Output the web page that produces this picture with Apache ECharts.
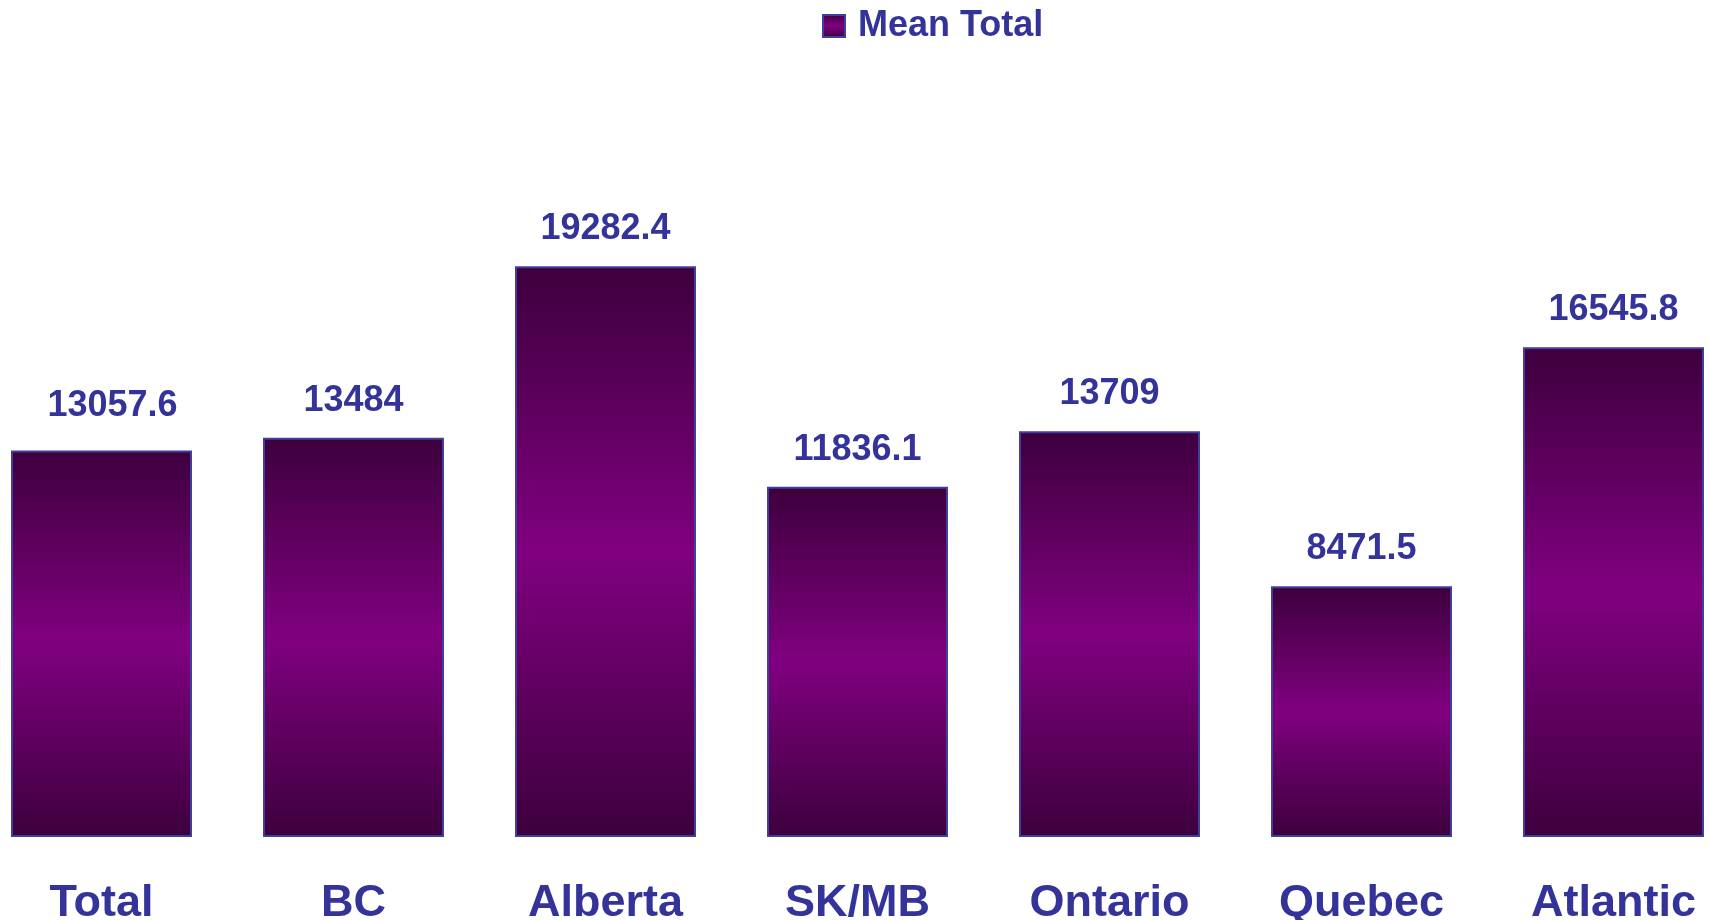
<!DOCTYPE html>
<html><head><meta charset="utf-8">
<script src="https://cdn.jsdelivr.net/npm/echarts@6/dist/echarts.min.js"></script>
<style>html,body{margin:0;padding:0;background:#fff}#c{width:1709px;height:920px}</style>
</head><body><div id="c"></div>
<script>
const categories = ['Total','BC','Alberta','SK/MB','Ontario','Quebec','Atlantic'];
const meanTotal = [13057.6, 13484, 19282.4, 11836.1, 13709, 8471.5, 16545.8];
const seriesName = 'Mean Total';

const chart = echarts.init(document.getElementById('c'));
const grad = new echarts.graphic.LinearGradient(0,0,0,1,[
  {offset:0,color:'#3d003d'},{offset:0.5,color:'#800080'},{offset:1,color:'#3d003d'}]);
const barData = meanTotal.map((v,i)=> i===0 ? {value:v,label:{offset:[11,-7]}} : v);
chart.setOption({
  animation:false,
  textStyle:{fontFamily:'Liberation Sans, Arial, sans-serif'},
  legend:{left:817,top:3,itemWidth:22,itemHeight:22,itemGap:10,icon:'rect',
    textStyle:{color:'#333399',fontSize:36,fontWeight:'bold',fontFamily:'Liberation Sans, Arial',padding:[0,0,0,8]},
    data:[seriesName]},
  grid:{left:-24.5,right:-30.5,top:245,bottom:83,containLabel:false,outerBoundsMode:'none'},
  xAxis:{type:'category',data:categories,axisLine:{show:false},axisTick:{show:false},
    axisLabel:{color:'#333399',fontSize:45,fontWeight:'bold',margin:44,fontFamily:'Liberation Sans, Arial'}},
  yAxis:{type:'value',min:0,max:20000,show:false,splitLine:{show:false}},
  series:[{name:seriesName,type:'bar',data:barData,barWidth:181,
    itemStyle:{color:grad,borderColor:'#3f3f9f',borderWidth:2},
    label:{show:true,position:'top',distance:19,color:'#333399',fontSize:36,fontWeight:'bold',fontFamily:'Liberation Sans, Arial'}}]
});
</script></body></html>
